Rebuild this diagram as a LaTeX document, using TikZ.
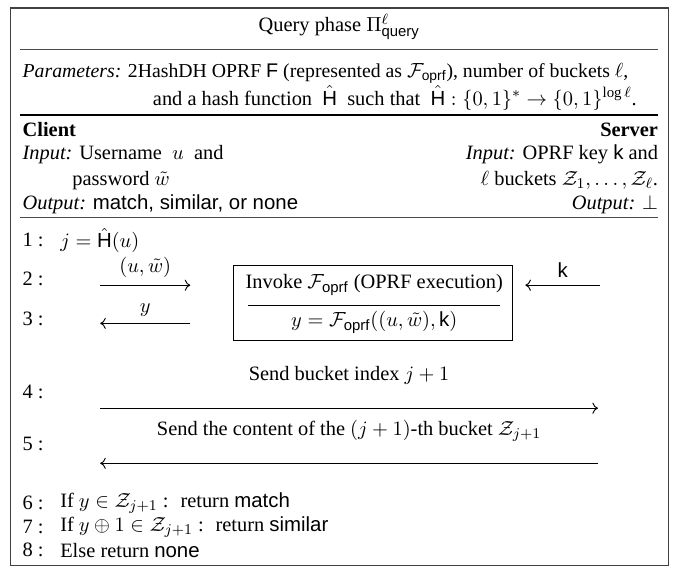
\documentclass[tikz,border=0pt,11pt]{standalone}
\usepackage{amsmath,amssymb}
\usepackage{fontspec}
\setmainfont{Liberation Serif}
\setsansfont{Liberation Sans}
\usetikzlibrary{positioning, arrows.meta}

\begin{document}
\begin{tikzpicture}[
        frame/.style={draw=black!75, line width=0.6pt},
        thinrule/.style={draw=black!70, line width=0.6pt},
        thickrule/.style={draw=black, line width=0.8pt},
        lft/.style={anchor=west, inner sep=0pt},
        rgt/.style={anchor=east, inner sep=0pt},
        stepno/.style={anchor=west, inner sep=0pt},
        msg/.style={-{To[length=3pt, width=6pt]}, line width=0.5pt}
    ]

    \useasboundingbox (0,0) rectangle (12.79,-10.96);

    % Frame
    \draw[frame] (0.19,-0.15) rectangle (12.61,-10.66);

    % Header
    \node (title) at (6.40,-0.51) {Query phase $\Pi^{\ell}_{\mathsf{query}}$};
    \draw[thinrule] (0.38,-0.94) -- (12.42,-0.94);
    \node[lft, font=\fontsize{10.6}{12}\selectfont] (par1) at (0.42,-1.38) {\textit{Parameters:} 2HashDH OPRF $\mathsf{F}$ (represented as $\mathcal{F}_{\mathsf{oprf}}$), number of buckets $\ell$,};
    \node[rgt] (par2) at (12.02,-1.85) {and a hash function~ $\hat{\mathsf{H}}$ ~such that~ $\hat{\mathsf{H}}:\{0,1\}^{*}\rightarrow\{0,1\}^{\log\ell}$.};
    \draw[thickrule] (0.38,-2.17) -- (12.42,-2.17);

    % Parties
    \node[lft, font=\bfseries] (client) at (0.42,-2.45) {Client};
    \node[rgt, font=\bfseries] (server) at (12.42,-2.45) {Server};
    \node[lft] (cin1) at (0.42,-2.92) {\textit{Input:} Username~ $u$ ~and};
    \node[lft] (cin2) at (1.36,-3.40) {password $\tilde{w}$};
    \node[lft] (cout) at (0.42,-3.85) {\textit{Output:} \textsf{match, similar, or none}};
    \node[rgt] (sin1) at (12.42,-2.92) {\textit{Input:} OPRF key $\mathsf{k}$ and};
    \node[rgt] (sin2) at (12.42,-3.40) {$\ell$ buckets $\mathcal{Z}_1,\ldots,\mathcal{Z}_{\ell}$.};
    \node[rgt] (sout) at (12.42,-3.85) {\textit{Output:} $\perp$};
    \draw[thinrule] (0.38,-4.11) -- (12.42,-4.11);

    % Step numbers
    \node[stepno] (n1) at (0.42,-4.53) {1 :};
    \node[stepno] (n2) at (0.42,-5.26) {2 :};
    \node[stepno] (n3) at (0.42,-6.02) {3 :};
    \node[stepno] (n4) at (0.42,-7.40) {4 :};
    \node[stepno] (n5) at (0.42,-8.38) {5 :};
    \node[stepno] (n6) at (0.42,-9.49) {6 :};
    \node[stepno] (n7) at (0.42,-9.94) {7 :};
    \node[stepno] (n8) at (0.42,-10.38) {8 :};

    % Step 1
    \node[lft] (s1) at (1.13,-4.53) {$j=\hat{\mathsf{H}}(u)$};

    % Steps 2 and 3 - OPRF evaluation
    \coordinate (a2s) at (1.89,-5.38);
    \coordinate (a2e) at (3.59,-5.38);
    \draw[msg] (a2s) -- node[above] (m2) {$(u,\tilde{w})$} (a2e);
    \coordinate (a3s) at (3.59,-6.10);
    \coordinate (a3e) at (1.89,-6.10);
    \draw[msg] (a3s) -- node[above] (m3) {$y$} (a3e);

    \node[draw, line width=0.6pt, minimum width=5.26cm, minimum height=1.42cm] (oprf) at (7.03,-5.71) {};
    \node (inv) at (7.06,-5.38) {Invoke $\mathcal{F}_{\mathsf{oprf}}$ (OPRF execution)};
    \draw[line width=0.6pt] (4.68,-5.76) -- (9.44,-5.76);
    \node (eval) at (7.06,-6.08) {$y=\mathcal{F}_{\mathsf{oprf}}((u,\tilde{w}),\mathsf{k})$};

    \coordinate (aks) at (11.32,-5.38);
    \coordinate (ake) at (9.91,-5.38);
    \draw[msg] (aks) -- node[above] (mk) {$\mathsf{k}$} (ake);

    % Steps 4 and 5 - bucket exchange
    \coordinate (a4s) at (1.89,-7.70);
    \coordinate (a4e) at (11.28,-7.70);
    \draw[msg] (a4s) -- node[above=9pt] (m4) {Send bucket index $j+1$} (a4e);
    \coordinate (a5s) at (11.28,-8.74);
    \coordinate (a5e) at (1.89,-8.74);
    \draw[msg] (a5s) -- node[above=8pt] (m5) {Send the content of the $(j+1)$-th bucket $\mathcal{Z}_{j+1}$} (a5e);

    % Steps 6-8
    \node[lft] (s6) at (1.13,-9.49) {If $y\in\mathcal{Z}_{j+1}$~:~ return \textsf{match}};
    \node[lft] (s7) at (1.13,-9.94) {If $y\oplus 1\in\mathcal{Z}_{j+1}$~:~ return \textsf{similar}};
    \node[lft] (s8) at (1.13,-10.38) {Else return \textsf{none}};

\end{tikzpicture}
\end{document}
